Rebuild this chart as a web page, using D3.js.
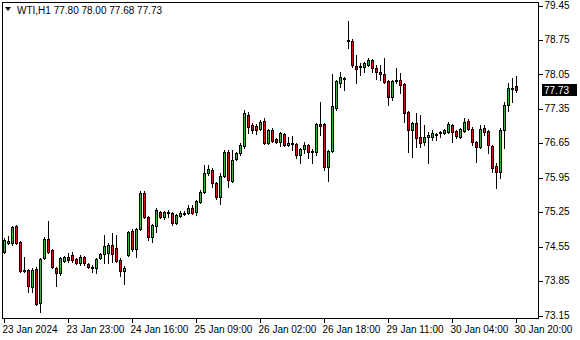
<!DOCTYPE html>
<html>
<head>
<meta charset="utf-8">
<script src="https://cdn.jsdelivr.net/npm/d3@7"></script>
<style>
  body { margin: 0; background: #fff; }
  svg { display: block; }
  text { font-family: "Liberation Sans", Arial, sans-serif; font-size: 10px; }
</style>
</head>
<body>
<div id="chart"></div>
<script>
// WTI H1 candles
var symbol = "WTI,H1";
var opens = [74.43,74.61,74.61,74.96,74.63,74.04,74.06,73.72,74.08,73.39,74.31,74.69,74.47,74.11,74.00,74.25,74.33,74.37,74.29,74.21,
  74.33,74.19,74.13,74.11,74.31,74.39,74.41,74.57,74.51,74.27,74.04,74.37,74.86,74.49,74.90,75.63,75.14,74.74,74.96,75.24,
  75.14,75.22,75.22,75.02,75.16,75.22,75.22,75.32,75.24,75.45,75.65,76.04,76.10,75.83,75.55,75.97,76.46,75.87,76.32,76.44,
  76.58,77.21,77.01,76.99,76.93,77.09,76.64,76.91,76.73,76.67,76.83,76.60,76.62,76.62,76.40,76.52,76.60,76.48,76.46,77.03,
  77.03,76.16,76.48,77.36,77.87,77.97,78.72,78.72,78.21,78.19,78.19,78.23,78.33,78.17,78.09,78.05,77.91,77.58,77.91,77.93,
  77.84,77.28,76.91,77.05,76.77,76.67,76.77,76.77,76.83,76.85,76.85,76.87,77.01,76.89,76.77,76.89,77.09,76.93,76.67,76.56,
  76.95,76.89,76.58,76.18,76.06,76.91,77.42,77.76,77.80];
var highs = [74.71,74.76,74.96,74.98,74.65,74.33,74.08,74.11,74.13,74.31,74.74,75.06,74.49,74.13,74.33,74.35,74.41,74.43,74.31,74.37,
  74.35,74.21,74.17,74.31,74.41,74.78,74.61,74.82,74.78,74.31,74.15,74.86,74.90,74.92,75.67,75.67,75.16,75.00,75.32,75.26,
  75.26,75.28,75.24,75.20,75.26,75.26,75.38,75.38,75.49,75.69,76.20,76.20,76.14,75.85,76.04,76.50,76.50,76.50,76.46,76.64,
  77.32,77.28,77.05,77.03,77.11,77.15,76.93,76.95,76.75,76.87,76.85,76.77,76.79,76.64,76.54,76.67,76.62,76.52,77.05,77.48,
  77.05,76.50,78.05,77.93,78.09,77.99,79.12,78.76,78.43,78.27,78.29,78.37,78.35,78.23,78.23,78.37,77.93,77.93,78.17,78.07,
  77.86,77.30,77.07,77.26,77.21,77.01,76.87,76.91,76.85,76.89,76.93,77.07,77.03,76.91,76.95,77.15,77.13,76.97,76.69,77.01,
  77.01,76.91,76.60,76.24,76.95,77.48,77.87,77.97,78.00];
var lows = [74.41,74.59,74.57,74.59,74.02,74.02,73.62,73.62,73.35,73.21,74.29,74.41,74.11,73.74,73.96,74.23,74.23,74.23,74.19,74.17,
  74.17,74.11,74.02,74.00,74.29,74.21,74.21,74.23,74.23,73.94,73.78,74.35,74.45,74.33,74.88,75.12,74.67,74.63,74.84,75.12,
  75.10,75.14,74.98,75.00,75.14,75.18,75.20,75.20,75.18,75.43,75.63,75.99,75.75,75.51,75.41,75.95,75.75,75.85,76.30,76.40,
  76.54,76.85,76.85,76.83,76.91,76.62,76.62,76.67,76.64,76.58,76.58,76.58,76.50,76.34,76.24,76.44,76.34,76.24,76.40,76.81,
  76.10,75.87,76.46,77.32,77.78,77.72,78.58,78.19,77.87,78.03,78.09,78.21,78.09,77.95,77.93,77.87,77.42,77.52,77.87,77.66,
  77.07,76.46,76.36,76.56,76.56,76.60,76.24,76.71,76.71,76.77,76.83,76.85,76.67,76.75,76.75,76.87,76.91,76.60,76.26,76.54,
  76.81,76.44,76.06,75.73,75.93,76.54,77.30,77.48,77.68];
var closes = [74.67,74.65,74.94,74.61,74.04,74.06,73.74,74.06,73.37,74.29,74.69,74.43,74.13,74.00,74.31,74.33,74.27,74.27,74.21,74.33,
  74.21,74.13,74.11,74.29,74.39,74.55,74.57,74.39,74.25,74.04,74.11,74.84,74.49,74.90,75.63,75.14,74.74,74.98,75.28,75.14,
  75.24,75.24,75.02,75.18,75.22,75.20,75.32,75.22,75.47,75.65,76.04,76.12,75.83,75.55,75.97,76.46,75.89,76.30,76.44,76.60,
  77.26,76.97,76.91,76.91,77.07,76.64,76.91,76.69,76.67,76.85,76.60,76.64,76.64,76.40,76.52,76.60,76.46,76.46,77.03,76.99,
  76.16,76.48,77.40,77.91,77.99,77.95,78.74,78.23,78.15,78.21,78.27,78.33,78.17,78.09,78.05,77.89,77.58,77.91,77.93,77.82,
  77.26,76.91,77.05,76.75,76.64,76.77,76.81,76.85,76.81,76.87,76.91,77.03,76.87,76.79,76.93,77.07,76.93,76.67,76.56,76.93,
  76.87,76.60,76.14,76.06,76.91,77.42,77.76,77.74,77.73];

var priceTicks = [79.45,78.75,78.05,77.35,76.65,75.95,75.25,74.55,73.85,73.15];
var dateLabels = ["23 Jan 2024","23 Jan 23:00","24 Jan 16:00","25 Jan 09:00","26 Jan 02:00",
  "26 Jan 18:00","29 Jan 11:00","30 Jan 04:00","30 Jan 20:00"];
var dateBars = [0,16,32,48,64,80,96,112,128];

var width = 580, height = 340;
var frame = {left: 2, top: 2, right: 538, bottom: 318};

var svg = d3.select("#chart").append("svg")
  .attr("width", width)
  .attr("height", height);

var x = d3.scaleLinear().domain([0, opens.length - 1]).range([4, 516]);
var y = d3.scaleLinear().domain([73.15, 79.45]).range([315, 5]);

var fmt = d3.format(".2f");
var snap = function(v) { return Math.round(v) + 0.5; };

// frame
svg.append("rect")
  .attr("x", frame.left + 0.5).attr("y", frame.top + 0.5)
  .attr("width", frame.right - frame.left)
  .attr("height", frame.bottom - frame.top)
  .attr("fill", "none").attr("stroke", "#000").attr("shape-rendering", "crispEdges");

// price axis
var yAxis = svg.append("g")
  .attr("transform", "translate(" + (frame.right + 0.5) + ",0)")
  .call(d3.axisRight(y).tickValues(priceTicks).tickFormat(fmt).tickSize(4).tickPadding(2));
yAxis.select(".domain").remove();
yAxis.selectAll("line").attr("stroke", "#000").attr("shape-rendering", "crispEdges")
  .attr("transform", function() { return "translate(0,0.5)"; });
yAxis.selectAll("text").attr("fill", "#000").style("font-family", "Liberation Sans, Arial, sans-serif").style("font-size", "10px");

// time axis
var xAxis = svg.append("g")
  .attr("transform", "translate(0," + (frame.bottom + 0.5) + ")")
  .call(d3.axisBottom(x).tickValues(dateBars)
    .tickFormat(function(d, i) { return dateLabels[i]; }).tickSize(4).tickPadding(3));
xAxis.select(".domain").remove();
xAxis.selectAll("line").attr("stroke", "#000").attr("shape-rendering", "crispEdges");
xAxis.selectAll("text").attr("text-anchor", "start").attr("dx", -2).attr("fill", "#000")
  .style("font-family", "Liberation Sans, Arial, sans-serif").style("font-size", "10px");

// candles
var bars = d3.range(opens.length);
var g = svg.append("g").attr("shape-rendering", "crispEdges");

g.selectAll(".wick").data(bars).enter().append("line")
  .attr("class", "wick")
  .attr("x1", function(i) { return Math.round(x(i)) + 0.5; })
  .attr("x2", function(i) { return Math.round(x(i)) + 0.5; })
  .attr("y1", function(i) { return Math.round(y(highs[i])); })
  .attr("y2", function(i) { return Math.round(y(lows[i])) + 1; })
  .attr("stroke", "#000");

g.selectAll(".body").data(bars).enter().append("rect")
  .attr("class", "body")
  .attr("x", function(i) { return Math.round(x(i)) - 0.5; })
  .attr("y", function(i) { return snap(y(Math.max(opens[i], closes[i]))); })
  .attr("width", 2)
  .attr("height", function(i) {
    var h = Math.round(y(Math.min(opens[i], closes[i]))) - Math.round(y(Math.max(opens[i], closes[i])));
    return Math.max(h, 1);
  })
  .attr("fill", function(i) { return closes[i] >= opens[i] ? "#3cb43c" : "#d01414"; })
  .attr("stroke", "#000");

// last price marker
var last = opens.length - 1;
var ly = Math.round(y(closes[last]));
svg.append("rect")
  .attr("x", frame.right + 4).attr("y", ly - 6)
  .attr("width", 35).attr("height", 12)
  .attr("fill", "#000");
svg.append("text")
  .attr("x", frame.right + 6).attr("y", ly + 4)
  .attr("fill", "#fff")
  .text(fmt(closes[last]));

// header
svg.append("path")
  .attr("d", "M5,7 L11,7 L8,11 Z")
  .attr("fill", "#000");
svg.append("text")
  .attr("x", 17).attr("y", 14)
  .attr("fill", "#000")
  .text(symbol + "  " + [opens[last], highs[last], lows[last], closes[last]].map(fmt).join(" "));
</script>
</body>
</html>
